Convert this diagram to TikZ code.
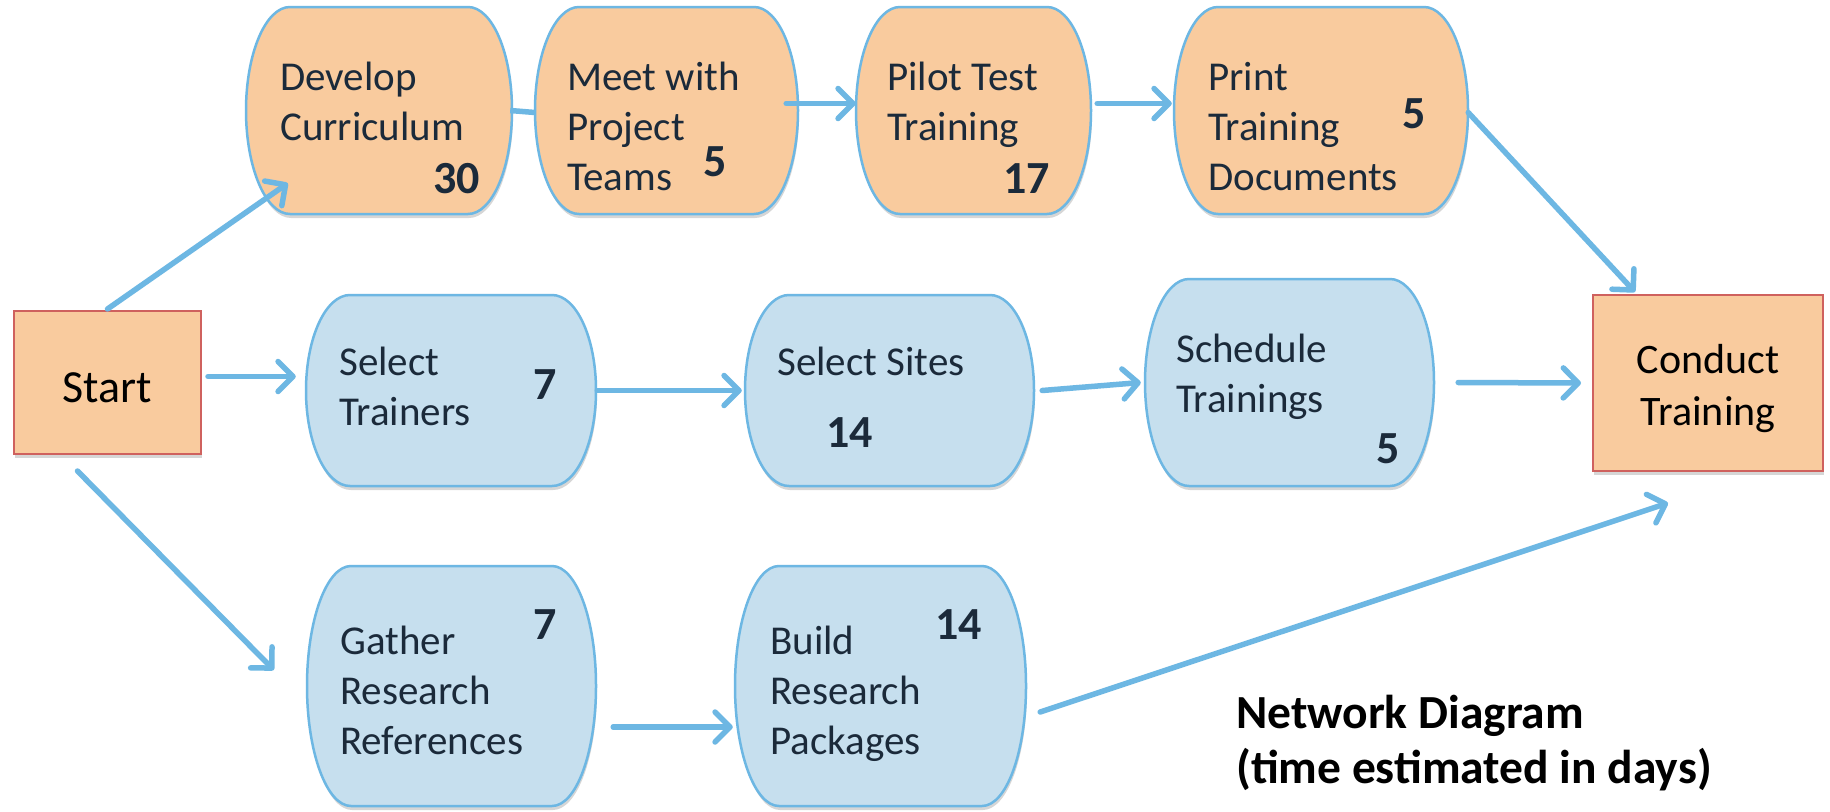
\documentclass[tikz,border=0pt]{standalone}
\usepackage{fontspec}
\setmainfont{Carlito}
\usetikzlibrary{arrows.meta,shadows}

\definecolor{peach}{HTML}{F9CB9E}
\definecolor{paleblue}{HTML}{C6DFEE}
\definecolor{edgeblue}{HTML}{6DB7E3}
\definecolor{edgered}{HTML}{CF615E}
\definecolor{ink}{HTML}{1B2A3A}

% Task box with bulging elliptic sides: name, centre x, centre y, width, height, style
\newcommand\taskshape[6]{%
  \path[#6] ({#2-#4/2+44},{#3-#5/2}) -- ({#2+#4/2-44},{#3-#5/2})
    arc[start angle=90,end angle=-90,x radius=44pt,y radius=#5/2*1pt]
    -- ({#2-#4/2+44},{#3+#5/2})
    arc[start angle=270,end angle=90,x radius=44pt,y radius=#5/2*1pt] -- cycle;
  \node[rectangle,inner sep=0,minimum width=#4,minimum height=#5] (#1) at (#2,#3) {};%
}

\begin{document}
\begin{tikzpicture}[x=1pt,y=-1pt,
  boxshadow/.style={drop shadow={shadow xshift=1pt,shadow yshift=-4pt,opacity=0.16,fill=black}},
  orangetask/.style={fill=peach,draw=edgeblue,line width=2.5pt,boxshadow},
  bluetask/.style={fill=paleblue,draw=edgeblue,line width=2.5pt,boxshadow},
  endbox/.style={rectangle,inner sep=0,fill=peach,draw=edgered,line width=2pt,boxshadow},
  tasktext/.style={inner sep=0,text=ink,font=\fontsize{41}{50}\selectfont},
  endtext/.style={inner sep=0,text=black},
  days/.style={inner sep=0,text=ink,font=\fontsize{46}{55}\selectfont\bfseries},
  flow/.style={draw=edgeblue,line width=5.5pt,line cap=round,
    -{Straight Barb[length=15pt,width=30pt,round]}},
  link/.style={draw=edgeblue,line width=5.5pt}]

\fill[white] (0,0) rectangle (1830,811);
\useasboundingbox (0,0) rectangle (1830,811);

% top row
\taskshape{dc}{379}{110.5}{266}{207}{orangetask}
\taskshape{mt}{666.5}{110.5}{263}{207}{orangetask}
\taskshape{pt}{973.5}{110.5}{235}{207}{orangetask}
\taskshape{pr}{1321}{110.5}{294}{207}{orangetask}
% middle row
\taskshape{st}{451}{390.5}{290}{191}{bluetask}
\taskshape{ss}{889.5}{390.5}{289}{191}{bluetask}
\taskshape{sc}{1289.5}{382.5}{289}{207}{bluetask}
% bottom row
\taskshape{gr}{451.5}{686}{289}{240}{bluetask}
\taskshape{br}{880.5}{686}{291}{240}{bluetask}

% start and end
\node[endbox,minimum width=187,minimum height=143] (start) at (107.5,382.5) {};
\node[endbox,minimum width=230,minimum height=176] (ct) at (1708,383) {};

% connectors
\draw[flow] ([shift={(0,-1)}]start.north) -- ([shift={(42,-31)}]dc.south west);
\draw[link] ([shift={(-2,0)}]dc.east) -- ([shift={(0,2)}]mt.west);
\draw[flow] ([shift={(-12,-7)}]mt.east) -- ([shift={(0,-7)}]pt.west);
\draw[flow] ([shift={(6,-7)}]pt.east) -- ([shift={(-2,-7)}]pr.west);
\draw[flow] ([shift={(0,2)}]pr.east) -- ([shift={(43,-2)}]ct.north west);
\draw[flow] ([shift={(6,-6)}]start.east) -- ([shift={(-10,-14)}]st.west);
\draw[flow] ([shift={(1,0)}]st.east) -- ([shift={(-3,0)}]ss.west);
\draw[flow] ([shift={(8,0)}]ss.east) -- ([shift={(-4,0)}]sc.west);
\draw[flow] ([shift={(24,0)}]sc.east) -- ([shift={(-11,0)}]ct.west);
\draw[flow] ([shift={(-30,16)}]start.south) -- ([shift={(-33,-16)}]gr.west);
\draw[flow] ([shift={(17,41)}]gr.east) -- ([shift={(-2,41)}]br.west);
\draw[flow] ([shift={(14,26)}]br.east) -- ([shift={(-40,31)}]ct.south);

% task texts and durations
\node[tasktext,anchor=base west] (dctext) at (280,90) {\vtop{\hbox{Develop}\hbox{Curriculum}}};
\node[days,anchor=base east] (dcdays) at (480,193) {30};
\node[tasktext,anchor=base west] (mttext) at (567,90) {\vtop{\hbox{Meet with}\hbox{Project}\hbox{Teams}}};
\node[days,anchor=base west] (mtdays) at (703,176) {5};
\node[tasktext,anchor=base west] (pttext) at (887,90) {\vtop{\hbox{Pilot Test}\hbox{Training}}};
\node[days,anchor=base east] (ptdays) at (1050,193) {17};
\node[tasktext,anchor=base west] (prtext) at (1208,90) {\vtop{\hbox{Print}\hbox{Training}\hbox{Documents}}};
\node[days,anchor=base west] (prdays) at (1402,128) {5};

\node[tasktext,anchor=base west] (sttext) at (339,375) {\vtop{\hbox{Select}\hbox{Trainers}}};
\node[days,anchor=base west] (stdays) at (533,399) {7};
\node[tasktext,anchor=base west] (sstext) at (777,375) {Select Sites};
\node[days,anchor=base west] (ssdays) at (826,447) {14};
\node[tasktext,anchor=base west] (sctext) at (1176,362) {\vtop{\hbox{Schedule}\hbox{Trainings}}};
\node[days,anchor=base west] (scdays) at (1376,463) {5};

\node[tasktext,anchor=base west] (grtext) at (340,654) {\vtop{\hbox{Gather}\hbox{Research}\hbox{References}}};
\node[days,anchor=base west] (grdays) at (533,639) {7};
\node[tasktext,anchor=base west] (brtext) at (770,654) {\vtop{\hbox{Build}\hbox{Research}\hbox{Packages}}};
\node[days,anchor=base west] (brdays) at (935,639) {14};

\node[endtext,anchor=base,font=\fontsize{46}{55}\selectfont] (starttext) at (107.5,402) {Start};
\node[endtext,anchor=base,font=\fontsize{42}{52}\selectfont] (cttext) at (1708,373)
  {\vtop{\hbox to 0pt{\hss Conduct\hss}\hbox to 0pt{\hss Training\hss}}};

% caption
\node[endtext,anchor=base west,font=\fontsize{47.5}{55}\selectfont\bfseries] (caption) at (1236,728)
  {\vtop{\hbox{Network Diagram}\hbox{(time estimated in days)}}};
\end{tikzpicture}
\end{document}
